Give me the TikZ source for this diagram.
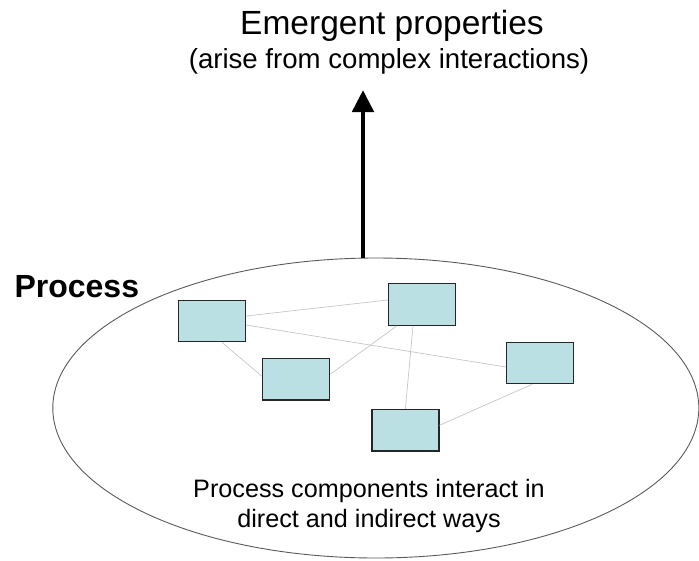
\documentclass[tikz,border=0pt]{standalone}
\usepackage{fontspec}
\setmainfont{Liberation Sans}
\usetikzlibrary{shapes.geometric,arrows.meta}
\definecolor{comp_blue}{RGB}{187, 224, 227}
\definecolor{ring_gray}{RGB}{90, 90, 90}
\tikzstyle{comp}=[rectangle,fill=comp_blue,draw=black!85,
  line width=1.2pt,inner sep=0pt,minimum width=67pt,minimum height=41.5pt]
\tikzstyle{ring}=[ellipse,draw=ring_gray,line width=0.9pt,inner sep=0pt,
  minimum width=646pt,minimum height=300pt]
\tikzstyle{link}=[draw=gray!45,line width=0.7pt]
\tikzstyle{rise}=[line width=4.7pt,-{Triangle[width=21pt,length=22pt]}]

\begin{document}
\begin{tikzpicture}[x=1pt,y=-1pt]
        \useasboundingbox (0,0) rectangle (699,560);
        \node [style=ring] (proc) at (375.8,408) {};
        \node [style=comp] (r1) at (212,321) {};
        \node [style=comp] (r2) at (422,304.5) {};
        \node [style=comp] (r3) at (296,379.3) {};
        \node [style=comp] (r4) at (540,363) {};
        \node [style=comp] (r5) at (405.4,430.3) {};
        \node [anchor=base west,font=\fontsize{32}{36}\selectfont\bfseries] (ptitle) at (11,297) {Process};
        \node [anchor=base,font=\fontsize{33.5}{38}\selectfont] (emerg) at (392,34.3) {Emergent properties};
        \node [anchor=base,font=\fontsize{27.6}{32}\selectfont] (arise) at (389,68.3) {(arise from complex interactions)};
        \node [anchor=base,align=center,font=\fontsize{25.2}{30}\selectfont] (ways) at (369,527) {Process components interact in\\direct and indirect ways};
        \coordinate (tip) at (363,90);
        \draw [style=link] ([yshift=5pt]r1.east) to ([yshift=4.5pt]r2.west);
        \draw [style=link] ([yshift=-4pt]r1.east) to ([yshift=-4pt]r4.west);
        \draw [style=link] ([xshift=10pt]r1.south) to ([yshift=3pt]r3.west);
        \draw [style=link] ([yshift=5pt]r3.east) to ([xshift=-25pt]r2.south);
        \draw [style=link] ([xshift=-9pt]r2.south) to (r5.north);
        \draw [style=link] ([xshift=-8pt]r4.south) to ([yshift=5pt]r5.east);
        \draw [style=rise] (tip |- proc.north) to (tip);
    \end{tikzpicture}
\end{document}
